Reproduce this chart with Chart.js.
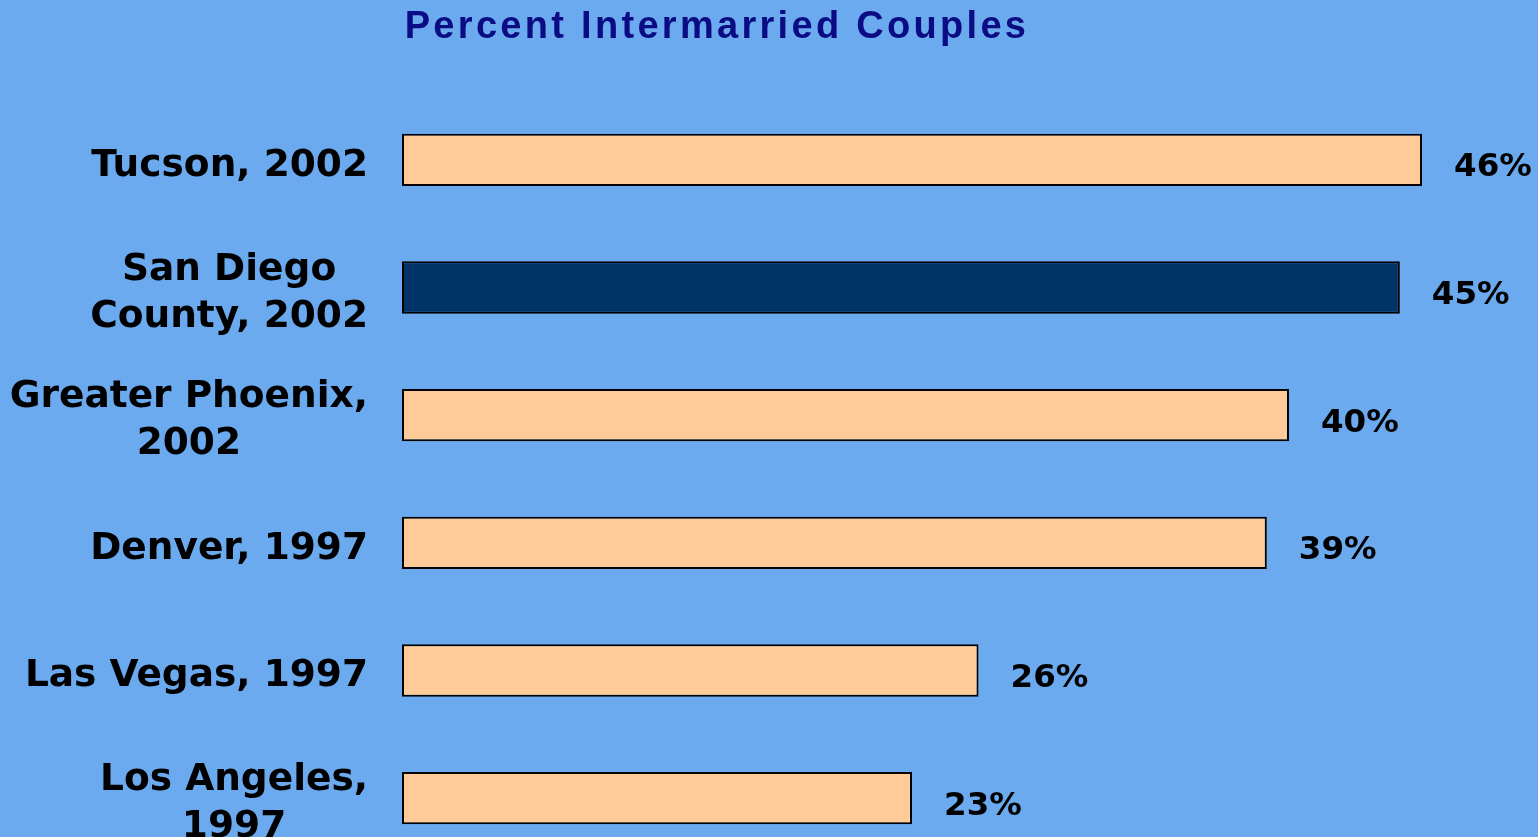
<!DOCTYPE html>
<html><head><meta charset="utf-8">
<script src="https://cdn.jsdelivr.net/npm/chart.js@4/dist/chart.umd.min.js"></script>
<style>
html,body{margin:0;padding:0;background:#6BAAEF;overflow:hidden;}
#wrap{position:relative;width:1538px;height:880px;}
</style></head><body>
<div id="wrap"><canvas id="c"></canvas></div>
<script>
// ---- data ----
const categories = [
  ["Tucson, 2002"],
  ["San Diego", "County, 2002"],
  ["Greater Phoenix,", "2002"],
  ["Denver, 1997"],
  ["Las Vegas, 1997"],
  ["Los Angeles,", "1997"]
];
const percentValues = [46, 45, 40, 39, 26, 23];
const highlightCategory = 1; // San Diego County
const titleText = "Percent Intermarried Couples";
const xMin = 0;
const xMax = 46.54;

// ---- styles ----
const PEACH = "#FFCC99";
const NAVY = "#003366";
const LABEL_FONT = 'bold 37.5px "DejaVu Sans"';
const VALUE_FONT = 'bold 32.5px "DejaVu Sans"';

const titleSpacing = {
  id: "titleSpacing",
  beforeDraw(chart) { chart.ctx.letterSpacing = "3.3px"; },
  beforeDatasetsDraw(chart) { chart.ctx.letterSpacing = "0px"; }
};

const labelPlugin = {
  id: "labelPlugin",
  afterDraw(chart) {
    const ctx = chart.ctx;
    const yScale = chart.scales.y;
    const meta = chart.getDatasetMeta(0);
    ctx.save();
    ctx.letterSpacing = "0px";
    ctx.fillStyle = "#000";
    ctx.textBaseline = "middle";
    ctx.textAlign = "center";
    ctx.font = LABEL_FONT;
    const lh = 47;
    categories.forEach((lines, i) => {
      const cy = yScale.getPixelForTick(i) + 6;
      const w = Math.max(...lines.map(l => ctx.measureText(l).width));
      const cx = yScale.right - 34 - w / 2;
      const y0 = cy - (lines.length - 1) * lh / 2;
      lines.forEach((l, j) => ctx.fillText(l, cx, y0 + j * lh));
    });
    ctx.font = VALUE_FONT;
    ctx.textAlign = "left";
    meta.data.forEach((bar, i) => {
      ctx.fillText(percentValues[i] + "%", bar.x + 32, bar.y + 8);
    });
    ctx.restore();
  }
};

new Chart(document.getElementById("c"), {
  type: "bar",
  data: {
    labels: categories,
    datasets: [{
      data: percentValues,
      backgroundColor: c => c.dataIndex === highlightCategory ? NAVY : PEACH,
      borderColor: "#000",
      borderWidth: 2,
      borderSkipped: false,
      barPercentage: 0.41,
      categoryPercentage: 1
    }]
  },
  options: {
    indexAxis: "y",
    responsive: true,
    maintainAspectRatio: false,
    animation: false,
    layout: { padding: { left: 0, right: 104, top: 0, bottom: 18 } },
    plugins: {
      legend: { display: false },
      tooltip: { enabled: false },
      title: {
        display: true,
        text: titleText,
        color: "#0B0B84",
        font: { family: "Liberation Sans", size: 38, weight: "bold", lineHeight: 1.2 },
        padding: { top: 5, bottom: 45.4 }
      }
    },
    scales: {
      x: { display: false, min: xMin, max: xMax },
      y: {
        display: true,
        grid: { display: false },
        border: { display: false },
        ticks: { display: false },
        afterFit(s) { s.width = 402; }
      }
    }
  },
  plugins: [titleSpacing, labelPlugin]
});
</script>
</body></html>
